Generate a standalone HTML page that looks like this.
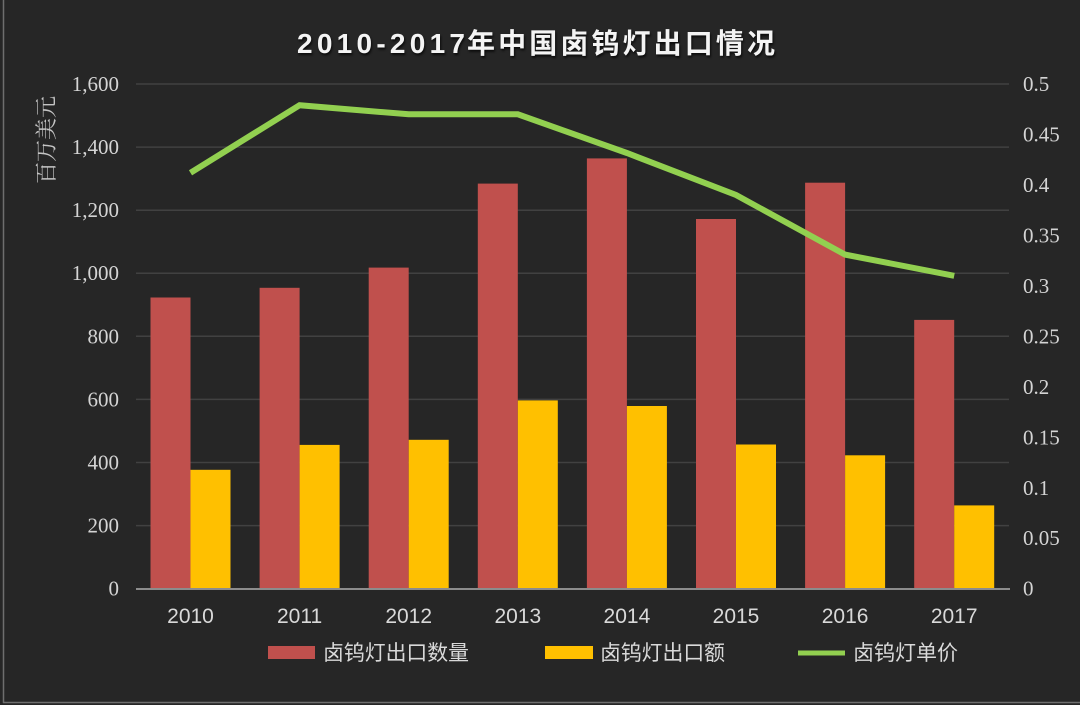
<!DOCTYPE html>
<html>
<head>
<meta charset="utf-8">
<style>
  html,body{margin:0;padding:0;background:#262626;}
  svg{display:block;}
</style>
</head>
<body>
<svg width="1080" height="705" viewBox="0 0 1080 705" xmlns="http://www.w3.org/2000/svg">
  <rect x="0" y="0" width="1080" height="705" fill="#262626"/>
  <!-- frame lines -->
  <line x1="3.5" y1="0" x2="3.5" y2="703" stroke="#6e6e6e" stroke-width="1.5"/>
  <line x1="3" y1="702.5" x2="1080" y2="702.5" stroke="#6e6e6e" stroke-width="1.5"/>

  <!-- title -->
  <g font-family="'Liberation Sans','Noto Sans CJK SC',sans-serif" font-weight="bold" font-size="28" fill="#f4f4f4" style="text-shadow:1px 2px 2px rgba(0,0,0,0.7)">
    <text x="297" y="53" textLength="168" lengthAdjust="spacing">2010-2017</text>
    <text x="467" y="53" textLength="308" lengthAdjust="spacing" font-family="'Noto Sans CJK SC',sans-serif">年中国卤钨灯出口情况</text>
  </g>

  <!-- gridlines -->
  <g stroke="#414141" stroke-width="1.5">
    <line x1="136" y1="84.0" x2="1009" y2="84.0"/>
    <line x1="136" y1="147.1" x2="1009" y2="147.1"/>
    <line x1="136" y1="210.2" x2="1009" y2="210.2"/>
    <line x1="136" y1="273.2" x2="1009" y2="273.2"/>
    <line x1="136" y1="336.3" x2="1009" y2="336.3"/>
    <line x1="136" y1="399.4" x2="1009" y2="399.4"/>
    <line x1="136" y1="462.5" x2="1009" y2="462.5"/>
    <line x1="136" y1="525.6" x2="1009" y2="525.6"/>
  </g>

  <!-- red bars -->
  <g fill="#C0504D">
    <rect x="150.5" y="297.5" width="40" height="291.2"/>
    <rect x="259.6" y="287.8" width="40" height="300.9"/>
    <rect x="368.7" y="267.6" width="40" height="321.1"/>
    <rect x="477.8" y="183.6" width="40" height="405.1"/>
    <rect x="586.9" y="158.4" width="40" height="430.3"/>
    <rect x="696.0" y="219.0" width="40" height="369.7"/>
    <rect x="805.1" y="182.7" width="40" height="406.0"/>
    <rect x="914.2" y="319.9" width="40" height="268.8"/>
  </g>
  <!-- yellow bars -->
  <g fill="#FFC000">
    <rect x="190.5" y="469.8" width="40" height="118.9"/>
    <rect x="299.6" y="444.9" width="40" height="143.8"/>
    <rect x="408.7" y="439.8" width="40" height="148.9"/>
    <rect x="517.8" y="400.4" width="40" height="188.3"/>
    <rect x="626.9" y="406.0" width="40" height="182.7"/>
    <rect x="736.0" y="444.5" width="40" height="144.2"/>
    <rect x="845.1" y="455.3" width="40" height="133.4"/>
    <rect x="954.2" y="505.4" width="40" height="83.3"/>
  </g>

  <!-- baseline -->
  <line x1="136" y1="589" x2="1010" y2="589" stroke="#8c8c8c" stroke-width="2"/>

  <!-- price line -->
  <polyline fill="none" stroke="#92D050" stroke-width="6" stroke-linejoin="miter"
    points="190.5,172.8 299.6,105.2 408.7,114.3 517.8,114.3 626.9,153.0 736.0,195.0 845.1,254.6 954.2,275.8"/>

  <!-- left axis labels -->
  <g font-family="'Liberation Serif',serif" font-size="21" fill="#d4d4d4" text-anchor="end">
    <text x="119" y="595.7">0</text>
    <text x="119" y="532.6">200</text>
    <text x="119" y="469.5">400</text>
    <text x="119" y="406.4">600</text>
    <text x="119" y="343.3">800</text>
    <text x="119" y="280.2">1,000</text>
    <text x="119" y="217.2">1,200</text>
    <text x="119" y="154.1">1,400</text>
    <text x="119" y="91.0">1,600</text>
  </g>

  <!-- right axis labels -->
  <g font-family="'Liberation Serif',serif" font-size="21" fill="#d4d4d4" text-anchor="start">
    <text x="1023" y="595.7">0</text>
    <text x="1023" y="545.2">0.05</text>
    <text x="1023" y="494.8">0.1</text>
    <text x="1023" y="444.3">0.15</text>
    <text x="1023" y="393.8">0.2</text>
    <text x="1023" y="343.4">0.25</text>
    <text x="1023" y="292.9">0.3</text>
    <text x="1023" y="242.4">0.35</text>
    <text x="1023" y="191.9">0.4</text>
    <text x="1023" y="141.5">0.45</text>
    <text x="1023" y="91.0">0.5</text>
  </g>

  <!-- axis title -->
  <text x="0" y="0" transform="translate(54,140) rotate(-90)" font-family="'Noto Serif CJK SC','Liberation Serif',serif" font-size="22" fill="#c4c4c4" text-anchor="middle">百万美元</text>

  <!-- x labels -->
  <g font-family="'Liberation Sans',sans-serif" font-size="21" fill="#d9d9d9" text-anchor="middle">
    <text x="190.5" y="623">2010</text>
    <text x="299.6" y="623">2011</text>
    <text x="408.7" y="623">2012</text>
    <text x="517.8" y="623">2013</text>
    <text x="626.9" y="623">2014</text>
    <text x="736.0" y="623">2015</text>
    <text x="845.1" y="623">2016</text>
    <text x="954.2" y="623">2017</text>
  </g>

  <!-- legend -->
  <rect x="268" y="646" width="47" height="13" fill="#C0504D"/>
  <rect x="545" y="646" width="48" height="13" fill="#FFC000"/>
  <line x1="798" y1="653" x2="845" y2="653" stroke="#92D050" stroke-width="5"/>
  <g font-family="'Liberation Sans','Noto Sans CJK SC',sans-serif" font-size="21" fill="#d9d9d9">
    <text x="323" y="660" textLength="146" lengthAdjust="spacingAndGlyphs">卤钨灯出口数量</text>
    <text x="600" y="660" textLength="125" lengthAdjust="spacingAndGlyphs">卤钨灯出口额</text>
    <text x="853" y="660" textLength="105" lengthAdjust="spacingAndGlyphs">卤钨灯单价</text>
  </g>
</svg>
</body>
</html>
